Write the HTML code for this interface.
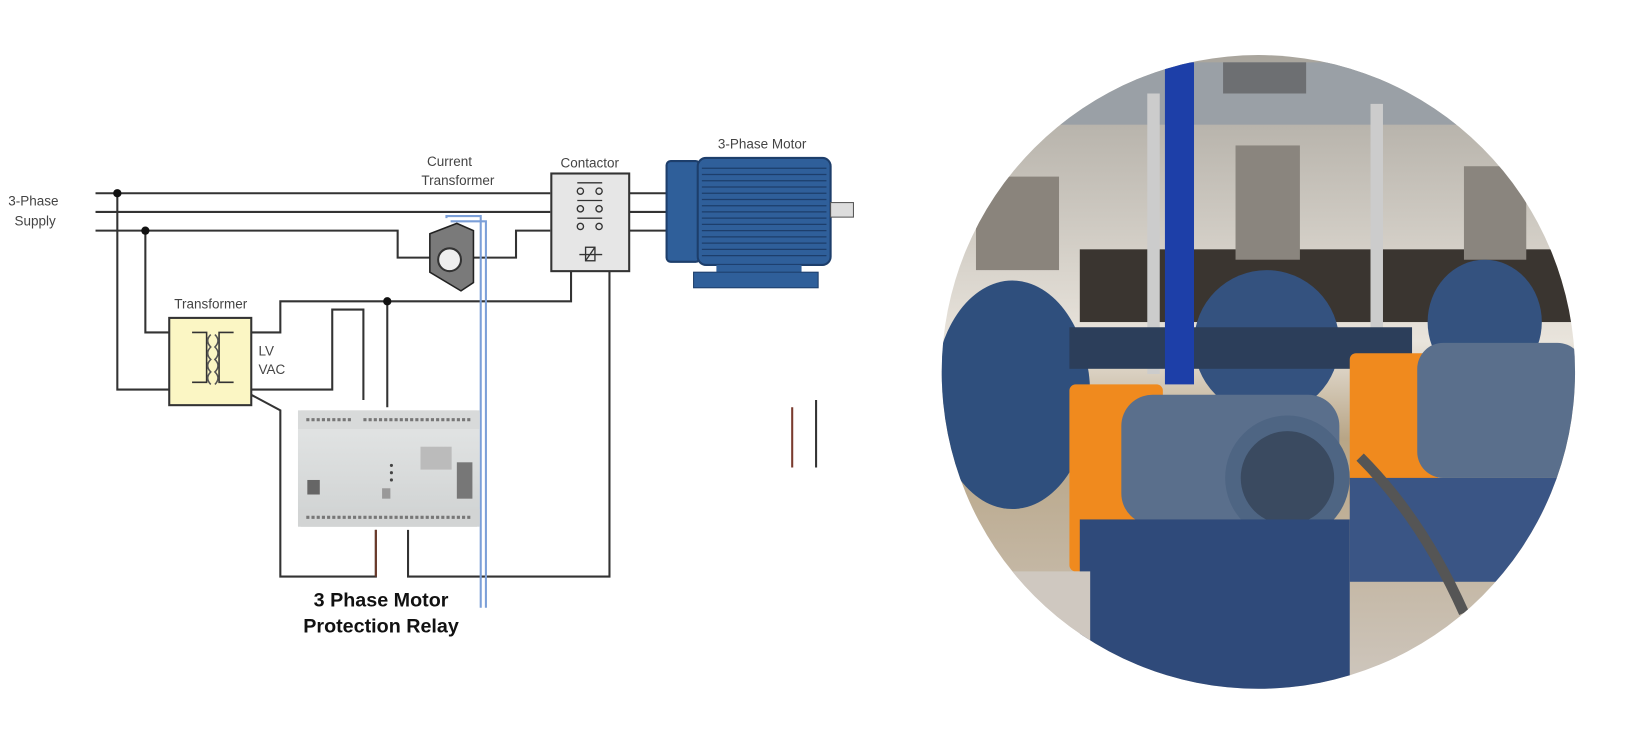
<!DOCTYPE html>
<html><head><meta charset="utf-8"><style>
html,body{margin:0;padding:0;background:#fff;}
body{width:1628px;height:748px;overflow:hidden;position:relative;font-family:"Liberation Sans",sans-serif;}
</style></head><body>
<svg width="1628" height="748" viewBox="0 0 1568 720" preserveAspectRatio="none" xmlns="http://www.w3.org/2000/svg" style="position:absolute;left:0;top:0">
<defs>
<clipPath id="c"><circle cx="1212" cy="358" r="305"/></clipPath>
<linearGradient id="relay" x1="0" y1="0" x2="0" y2="1"><stop offset="0" stop-color="#e4e6e6"/><stop offset="1" stop-color="#cfd2d2"/></linearGradient>
<linearGradient id="bg" x1="0" y1="0" x2="0" y2="1"><stop offset="0" stop-color="#a8a49c"/><stop offset="0.45" stop-color="#e9e4dc"/><stop offset="0.6" stop-color="#b8a586"/><stop offset="1" stop-color="#cfc8c0"/></linearGradient>
</defs>
<g fill="none" stroke="#333" stroke-width="2">
<path d="M92 186H530M92 204H530M92 222H383V248H497V222H530"/>
<path d="M606 186H642M606 204H642M606 222H642"/>
<path d="M113 186V375H163M140 222V320H163"/>
<path d="M242 320H270V290H550V261"/>
<path d="M242 375H320V298H350V385"/>
<path d="M373 290V392"/>
<path d="M242 380L270 395V555H362V510"/>
<path d="M393 510V555H587V261"/>
</g>
<path d="M362 510V555" stroke="#6b3a2a" stroke-width="2"/>
<path d="M763 392V450" stroke="#7a3b2e" stroke-width="2"/>
<path d="M786 385V450" stroke="#333" stroke-width="2"/>
<g fill="#111"><circle cx="113" cy="186" r="4"/><circle cx="140" cy="222" r="4"/><circle cx="373" cy="290" r="4"/></g>
<path d="M430 210V208H463V585M434 213H468V585" fill="none" stroke="#7b9fd8" stroke-width="2"/>
<polygon points="414,225 440,215 456,222 456,272 444,280 414,262" fill="#7a7a7a" stroke="#222" stroke-width="1.5"/>
<circle cx="433" cy="250" r="11" fill="#eee" stroke="#333" stroke-width="2"/>
<rect x="531" y="167" width="75" height="94" fill="#e6e6e6" stroke="#333" stroke-width="2"/>
<g fill="none" stroke="#333" stroke-width="1.3">
<path d="M556 176H580M556 193H580M556 210H580"/>
<circle cx="559" cy="184" r="3"/><circle cx="577" cy="184" r="3"/>
<circle cx="559" cy="201" r="3"/><circle cx="577" cy="201" r="3"/>
<circle cx="559" cy="218" r="3"/><circle cx="577" cy="218" r="3"/>
<rect x="564" y="238" width="9" height="13"/><path d="M558 245H580M564 251L573 238"/>
</g>
<rect x="163" y="306" width="79" height="84" fill="#fbf6c4" stroke="#333" stroke-width="2"/>
<g fill="none" stroke="#333" stroke-width="1.5"><path d="M185 320H199V368H185M225 320H211V368H225"/><path d="M203 322q-6 6 0 12q-6 6 0 12q-6 6 0 12q-6 6 0 12" stroke="#555"/><path d="M207 322q6 6 0 12q6 6 0 12q6 6 0 12q6 6 0 12" stroke="#555"/></g>
<rect x="642" y="155" width="32" height="97" rx="4" fill="#2f5f9a" stroke="#1d3e6b" stroke-width="2"/>
<rect x="672" y="152" width="128" height="103" rx="8" fill="#2f5f9a" stroke="#1d3e6b" stroke-width="2"/>
<g stroke="#1d3e6b" stroke-width="1.2"><path d="M676 162H796M676 168H796M676 174H796M676 180H796M676 186H796M676 192H796M676 198H796M676 204H796M676 210H796M676 216H796M676 222H796M676 228H796M676 234H796M676 240H796M676 246H796"/></g>
<rect x="690" y="255" width="82" height="9" fill="#2f5f9a"/>
<rect x="668" y="262" width="120" height="15" fill="#2f5f9a" stroke="#1d3e6b"/>
<rect x="800" y="195" width="22" height="14" fill="#ddd" stroke="#555"/>
<rect x="287" y="395" width="175" height="112" rx="3" fill="url(#relay)"/>
<rect x="287" y="395" width="175" height="18" fill="#d8dada"/>
<rect x="287" y="490" width="175" height="17" fill="#d2d4d4"/>
<path d="M295 404H340M350 404H455M295 498H455" stroke="#777" stroke-width="3" stroke-dasharray="3 2"/>
<rect x="405" y="430" width="30" height="22" fill="#bbb"/>
<rect x="440" y="445" width="15" height="35" fill="#777"/>
<rect x="296" y="462" width="12" height="14" fill="#666"/>
<rect x="368" y="470" width="8" height="10" fill="#999"/>
<g fill="#444"><circle cx="377" cy="448" r="1.5"/><circle cx="377" cy="455" r="1.5"/><circle cx="377" cy="462" r="1.5"/></g>
<g font-family="Liberation Sans, sans-serif" font-size="13" fill="#444">
<text x="8" y="198">3-Phase</text><text x="14" y="217">Supply</text>
<text x="433" y="160" text-anchor="middle">Current</text>
<text x="441" y="178" text-anchor="middle">Transformer</text>
<text x="568" y="161" text-anchor="middle">Contactor</text>
<text x="734" y="143" text-anchor="middle">3-Phase Motor</text>
<text x="203" y="297" text-anchor="middle">Transformer</text>
<text x="249" y="342">LV</text><text x="249" y="360">VAC</text>
</g>
<g font-family="Liberation Sans, sans-serif" font-size="19" font-weight="bold" fill="#111" text-anchor="middle">
<text x="367" y="584">3 Phase Motor</text><text x="367" y="609">Protection Relay</text>
</g>
<g clip-path="url(#c)">
<rect x="900" y="50" width="630" height="620" fill="url(#bg)"/>
<rect x="1040" y="240" width="480" height="70" fill="#3a3530"/>
<rect x="1000" y="60" width="520" height="60" fill="#9aa0a6"/>
<rect x="1178" y="60" width="80" height="30" fill="#6d6f72"/>
<rect x="1190" y="140" width="62" height="110" fill="#8a857e"/>
<rect x="940" y="170" width="80" height="90" fill="#8a847c"/>
<rect x="1410" y="160" width="60" height="90" fill="#8a857e"/>
<rect x="1105" y="90" width="12" height="270" fill="#ccc"/>
<rect x="1320" y="100" width="12" height="250" fill="#ccc"/>
<ellipse cx="975" cy="380" rx="75" ry="110" fill="#2f4f7d"/>
<ellipse cx="1220" cy="330" rx="70" ry="70" fill="#34527f"/>
<ellipse cx="1430" cy="310" rx="55" ry="60" fill="#34527f"/>
<rect x="1030" y="315" width="330" height="40" fill="#2c3e5a"/>
<rect x="1122" y="60" width="28" height="310" fill="#1d3fa8"/>
<rect x="1030" y="370" width="90" height="180" rx="6" fill="#f08a1e"/>
<rect x="1300" y="340" width="85" height="150" rx="6" fill="#f08a1e"/>
<rect x="1080" y="380" width="210" height="125" rx="30" fill="#5a6f8c"/>
<circle cx="1240" cy="460" r="60" fill="#4e6583"/>
<circle cx="1240" cy="460" r="45" fill="#3a4a60"/>
<rect x="1365" y="330" width="160" height="130" rx="25" fill="#5a6f8c"/>
<rect x="1040" y="500" width="260" height="170" fill="#2f4a7a"/>
<rect x="1300" y="460" width="230" height="100" fill="#3a5585"/>
<rect x="900" y="550" width="150" height="120" fill="#cfc8c0"/>
<path d="M1310 440Q1370 500 1410 590" stroke="#555" stroke-width="10" fill="none"/>
</g>
</svg>
</body></html>
